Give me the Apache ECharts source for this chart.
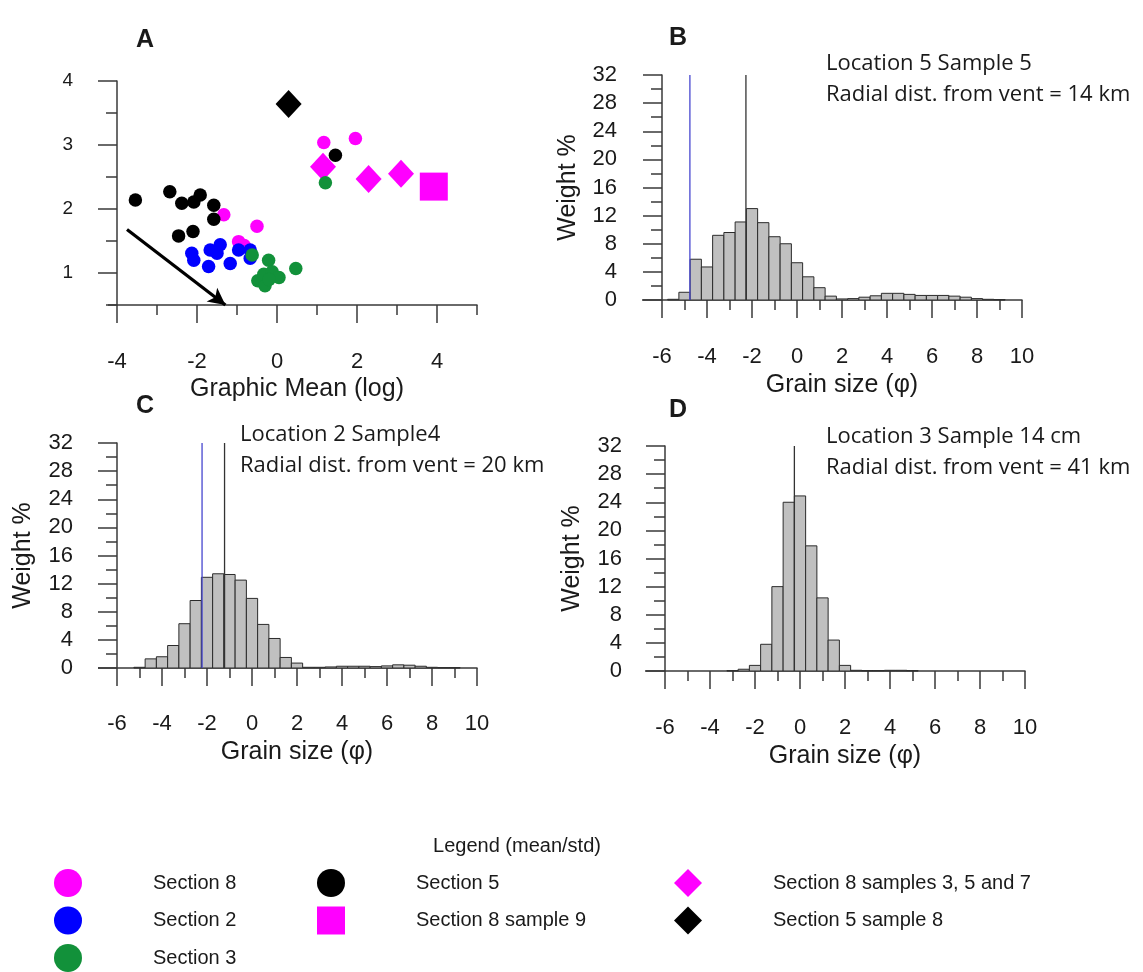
<!DOCTYPE html>
<html>
<head>
<meta charset="utf-8">
<script src="https://cdn.jsdelivr.net/npm/echarts@6/dist/echarts.min.js"></script>
<style>
  html, body { margin: 0; padding: 0; background: #fff; }
  #chart { width: 1143px; height: 972px; }
</style>
</head>
<body>
<div id="chart"></div>
<script>
// ---------- Panel A: graphic mean vs. sorting (mean/std) ----------
const section8 = [[-1.33, 1.91], [-0.50, 1.73], [-0.96, 1.49], [-0.82, 1.43], [1.17, 3.04], [1.96, 3.10]];
const section2 = [[-2.13, 1.31], [-2.08, 1.20], [-1.67, 1.36], [-1.50, 1.31], [-1.42, 1.44],
                  [-1.71, 1.10], [-1.17, 1.15], [-0.96, 1.36], [-0.67, 1.36], [-0.67, 1.23]];
const section3 = [[-0.62, 1.28], [-0.21, 1.20], [-0.48, 0.88], [-0.30, 0.80], [-0.33, 0.98],
                  [-0.12, 1.02], [0.05, 0.93], [-0.20, 0.90], [0.47, 1.07], [1.21, 2.41]];
const section5 = [[-3.54, 2.14], [-2.68, 2.27], [-2.38, 2.09], [-2.08, 2.11], [-1.92, 2.22],
                  [-1.58, 2.06], [-1.58, 1.84], [-2.46, 1.58], [-2.10, 1.65], [1.46, 2.84]];
const section8Sample9 = [[3.92, 2.35]];
const section8Samples357 = [[1.15, 2.66], [2.29, 2.47], [3.10, 2.55]];
const section5Sample8 = [[0.29, 3.64]];
const trendArrow = [[-3.75, 1.68], [-1.29, 0.5]];
const meanTicks = [-4, -2, 0, 2, 4];
const sortingTicks = [1, 2, 3, 4];

// ---------- Panels B-D: grain-size distributions (weight % per half-phi bin) ----------
const phiB = [-5.5, -5, -4.5, -4, -3.5, -3, -2.5, -2, -1.5, -1, -0.5, 0, 0.5, 1, 1.5,
              2, 2.5, 3, 3.5, 4, 4.5, 5, 5.5, 6, 6.5, 7, 7.5, 8, 8.5, 9];
const wtB  = [0.1, 1.1, 5.8, 4.7, 9.2, 9.6, 11.1, 13.0, 11.0, 9.0, 8.0, 5.3, 3.3, 1.75, 0.55,
              0.15, 0.2, 0.4, 0.6, 0.95, 0.95, 0.8, 0.65, 0.65, 0.65, 0.55, 0.4, 0.2, 0.1, 0.05];
const phiC = [-5, -4.5, -4, -3.5, -3, -2.5, -2, -1.5, -1, -0.5, 0, 0.5, 1, 1.5,
              2, 2.5, 3, 3.5, 4, 4.5, 5, 5.5, 6, 6.5, 7, 7.5, 8, 8.5, 9];
const wtC  = [0.1, 1.3, 1.6, 3.2, 6.3, 9.6, 12.9, 13.4, 13.3, 12.5, 9.9, 6.2, 4.2, 1.5,
              0.7, 0.1, 0.1, 0.15, 0.25, 0.25, 0.25, 0.2, 0.3, 0.45, 0.4, 0.25, 0.1, 0.05, 0.05];
const phiD = [-3, -2.5, -2, -1.5, -1, -0.5, 0, 0.5, 1, 1.5, 2, 2.5, 3, 3.5, 4, 4.5, 5];
const wtD  = [0.05, 0.25, 0.8, 3.8, 12.0, 24.0, 24.9, 17.8, 10.4, 4.4, 0.8, 0.1, 0.05, 0.05, 0.1, 0.1, 0.05];
// statistic markers (phi) drawn as vertical lines
const blueLineB = -4.76, blackLineB = -2.27;
const blueLineC = -2.22, blackLineC = -1.22;
const blackLineD = -0.25;
const phiTicks = [-6, -4, -2, 0, 2, 4, 6, 8, 10];
const weightTicks = [0, 4, 8, 12, 16, 20, 24, 28, 32];

// ---------- styling ----------
const FONT = '"Liberation Sans", Arial, sans-serif';
const NOTE_FONT = '"Open Sans", "Liberation Sans", sans-serif';
const AX = '#3a3a3a';
const TXT = '#1a1a1a';
const MAGENTA = '#ff00ff', BLUE = '#0000ff', GREEN = '#12913a', BLACK = '#000000';

const grids = [
  { left: 117, top: 81, width: 360, height: 224 },   // A
  { left: 662, top: 75, width: 360, height: 225 },   // B
  { left: 117, top: 443, width: 360, height: 225 },  // C
  { left: 665, top: 446, width: 360, height: 225 }   // D
];

// each grid gets a short-tick axis and an overlaid long-tick labelled axis
function xPair(g, min, max, minorInterval, majorVals, labelSize, labelMargin, name, nameGap) {
  return [
    { type: 'value', gridIndex: g, min, max, interval: minorInterval, position: 'bottom',
      axisLine: { show: true, onZero: false, lineStyle: { color: AX, width: 1.5 } },
      axisTick: { show: true, length: 10, lineStyle: { color: AX, width: 1.5 } },
      axisLabel: { show: false }, splitLine: { show: false } },
    { type: 'value', gridIndex: g, min, max, position: 'bottom',
      axisLine: { show: false, onZero: false },
      axisTick: { show: true, length: 18, customValues: majorVals, lineStyle: { color: AX, width: 1.5 } },
      axisLabel: { show: true, customValues: majorVals, fontSize: labelSize, margin: labelMargin,
                   color: TXT, fontFamily: FONT },
      splitLine: { show: false },
      name, nameLocation: 'middle', nameGap,
      nameTextStyle: { fontSize: 25, color: TXT, fontFamily: FONT } }
  ];
}
function yPair(g, min, max, minorInterval, majorVals, labelSize, labelMargin, name, nameGap) {
  return [
    { type: 'value', gridIndex: g, min, max, interval: minorInterval, position: 'left',
      axisLine: { show: true, onZero: false, lineStyle: { color: AX, width: 1.5 } },
      axisTick: { show: true, length: 11, lineStyle: { color: AX, width: 1.5 } },
      axisLabel: { show: false }, splitLine: { show: false } },
    { type: 'value', gridIndex: g, min, max, position: 'left',
      axisLine: { show: false, onZero: false },
      axisTick: { show: true, length: 19, customValues: majorVals, lineStyle: { color: AX, width: 1.5 } },
      axisLabel: { show: true, customValues: majorVals, fontSize: labelSize, margin: labelMargin,
                   color: TXT, fontFamily: FONT },
      splitLine: { show: false },
      name, nameLocation: 'middle', nameGap,
      nameTextStyle: { fontSize: 25, color: TXT, fontFamily: FONT } }
  ];
}

const xAxes = [].concat(
  xPair(0, -4, 5, 1, meanTicks, 22, 46, 'Graphic Mean (log)', 72),
  xPair(1, -6, 10, 1, phiTicks, 22, 46, 'Grain size (\u03c6)', 73),
  xPair(2, -6, 10, 1, phiTicks, 22, 45, 'Grain size (\u03c6)', 72),
  xPair(3, -6, 10, 1, phiTicks, 22, 46, 'Grain size (\u03c6)', 73)
);
const yAxes = [].concat(
  yPair(0, 0.5, 4, 0.5, sortingTicks, 19, 44, '', 0),
  yPair(1, 0, 32, 2, weightTicks, 22, 45, 'Weight %', 81),
  yPair(2, 0, 32, 2, weightTicks, 22, 44, 'Weight %', 81),
  yPair(3, 0, 32, 2, weightTicks, 22, 43, 'Weight %', 80)
);

function scatter(name, data, symbol, size, color) {
  return { name, type: 'scatter', xAxisIndex: 0, yAxisIndex: 0, data, symbol, symbolSize: size,
           itemStyle: { color, opacity: 1 }, z: 3 };
}

// half-phi bins drawn as outlined rectangles through the axis scales
function histogram(g, phi, wt) {
  return {
    type: 'custom', xAxisIndex: 2 * g, yAxisIndex: 2 * g, z: 2,
    data: phi.map((p, i) => [p, wt[i]]),
    encode: { x: 0, y: 1 },
    renderItem: function (params, api) {
      const c = api.value(0), w = api.value(1);
      const tl = api.coord([c - 0.25, w]);
      const br = api.coord([c + 0.25, 0]);
      return { type: 'rect',
               shape: { x: tl[0], y: tl[1], width: br[0] - tl[0], height: br[1] - tl[1] },
               style: { fill: '#c0c0c0', stroke: '#2b2b2b', lineWidth: 1 } };
    }
  };
}
function statLine(g, phi, color) {
  return { type: 'line', xAxisIndex: 2 * g, yAxisIndex: 2 * g, z: 4,
           data: [[phi, 0], [phi, 32]], showSymbol: false, symbol: 'none',
           lineStyle: { color, width: 1.3 } };
}

const series = [
  scatter('Section 8 samples 3, 5 and 7', section8Samples357, 'diamond', [26, 28], MAGENTA),
  scatter('Section 8 sample 9', section8Sample9, 'rect', 28, MAGENTA),
  scatter('Section 8', section8, 'circle', 13.5, MAGENTA),
  scatter('Section 2', section2, 'circle', 13.5, BLUE),
  scatter('Section 3', section3, 'circle', 13.5, GREEN),
  Object.assign(scatter('Section 5', section5, 'circle', 13.5, BLACK), {
    markLine: {
      silent: true, animation: false,
      symbol: ['none', 'arrow'], symbolSize: [13, 17],
      label: { show: false },
      lineStyle: { color: BLACK, width: 3.2, type: 'solid' },
      emphasis: { disabled: true },
      data: [[{ coord: trendArrow[0] }, { coord: trendArrow[1] }]]
    }
  }),
  scatter('Section 5 sample 8', section5Sample8, 'diamond', [26, 28], BLACK),
  histogram(1, phiB, wtB),
  statLine(1, blueLineB, '#4646cf'),
  statLine(1, blackLineB, '#333333'),
  histogram(2, phiC, wtC),
  statLine(2, blueLineC, '#4646cf'),
  statLine(2, blackLineC, '#333333'),
  histogram(3, phiD, wtD),
  statLine(3, blackLineD, '#333333')
];

function label(text, x, y, font, align) {
  return { type: 'text', x, y, silent: true,
           style: { text, font, fill: TXT, textAlign: align || 'left', align: align || 'left',
                    textVerticalAlign: 'middle', verticalAlign: 'middle' } };
}
const BOLD = 'bold 25px ' + FONT;
const NOTE = '22px ' + NOTE_FONT;
const texts = [
  label('A', 145, 40, BOLD, 'center'),
  label('B', 678, 38, BOLD, 'center'),
  label('C', 145, 406, BOLD, 'center'),
  label('D', 678, 410, BOLD, 'center'),
  label('Location 5 Sample 5', 826, 64, NOTE),
  label('Radial dist. from vent = 14 km', 826, 95, NOTE),
  label('Location 2 Sample4', 240, 435, NOTE),
  label('Radial dist. from vent = 20 km', 240, 466, NOTE),
  label('Location 3 Sample 14 cm', 826, 437, NOTE),
  label('Radial dist. from vent = 41 km', 826, 468, NOTE),
  label('Legend (mean/std)', 517, 846, '20px ' + FONT, 'center')
];

function legendBlock(left, names) {
  return { left, top: 869, orient: 'vertical', padding: 0, itemWidth: 28, itemHeight: 28, itemGap: 9.5,
           selectedMode: false, data: names,
           formatter: name => '{g|}' + name,
           textStyle: { fontSize: 20, color: TXT, fontFamily: FONT, rich: { g: { width: 66 } } } };
}

const chart = echarts.init(document.getElementById('chart'), null, { renderer: 'canvas' });
chart.setOption({
  animation: false,
  backgroundColor: '#ffffff',
  grid: grids,
  xAxis: xAxes,
  yAxis: yAxes,
  series,
  legend: [
    legendBlock(54, ['Section 8', 'Section 2', 'Section 3']),
    legendBlock(317, ['Section 5', 'Section 8 sample 9']),
    legendBlock(674, ['Section 8 samples 3, 5 and 7', 'Section 5 sample 8'])
  ],
  graphic: texts
});

// the horizontal axis line runs a little past the vertical axis on the left
const stubs = [[6, -4, 0.5, 9], [7, -6, 0, 20], [10, -6, 0, 19], [13, -6, 0, 20]];
const stubLines = stubs.map(([si, x0, y0, len], k) => {
  const p = chart.convertToPixel({ seriesIndex: si }, [x0, y0]);
  return { type: 'line', id: 'stub' + k, silent: true,
           shape: { x1: p[0] - len, y1: p[1], x2: p[0], y2: p[1] },
           style: { stroke: AX, lineWidth: 1.5 } };
});
chart.setOption({ graphic: texts.concat(stubLines) });
</script>
</body>
</html>
